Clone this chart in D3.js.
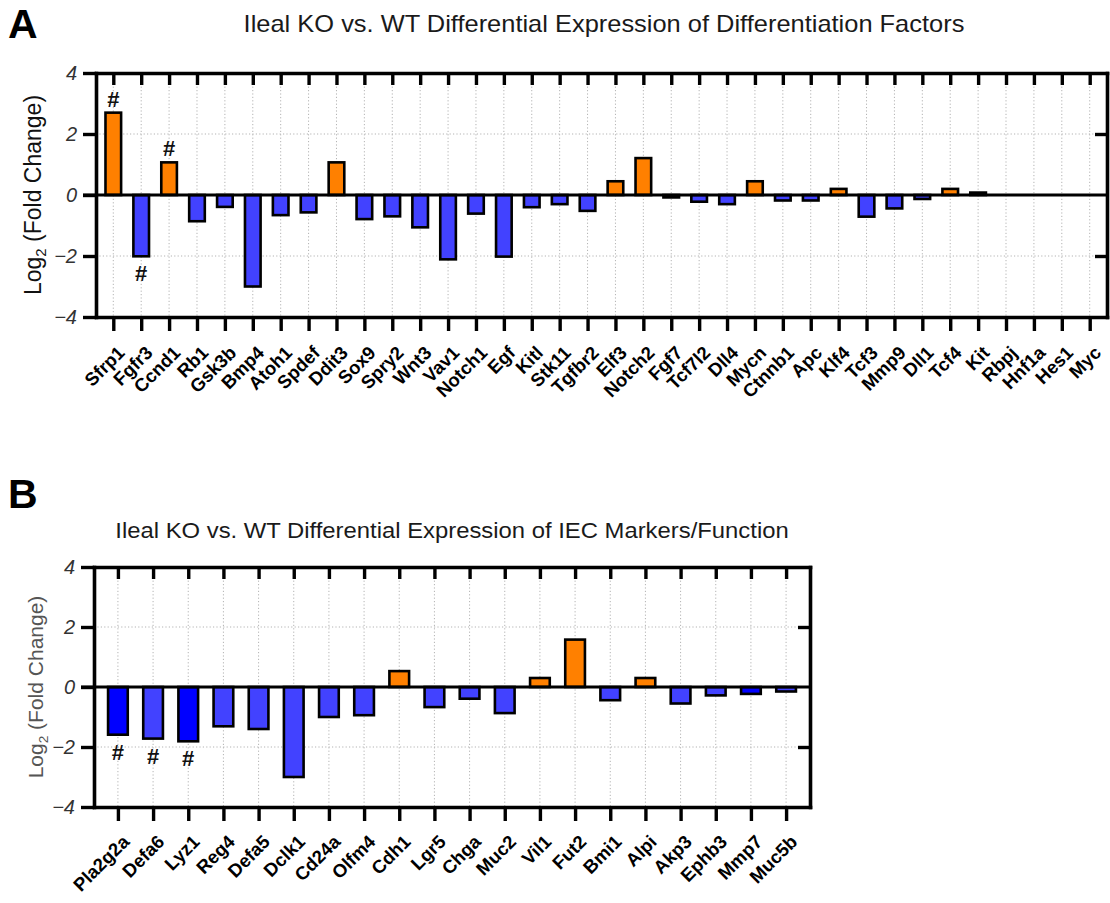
<!DOCTYPE html>
<html>
<head>
<meta charset="utf-8">
<script src="https://cdn.jsdelivr.net/npm/d3@7"></script>
<style>
  html, body { margin: 0; padding: 0; background: #fff; }
  svg { display: block; font-family: "Liberation Sans", Arial, sans-serif; }
</style>
</head>
<body>
<svg id="fig" width="1110" height="903"></svg>
<script>
// ---- Panel A: differentiation factors ----
const genesA = ["Sfrp1","Fgfr3","Ccnd1","Rb1","Gsk3b","Bmp4","Atoh1","Spdef","Ddit3","Sox9",
  "Spry2","Wnt3","Vav1","Notch1","Egf","Kitl","Stk11","Tgfbr2","Elf3","Notch2",
  "Fgf7","Tcf7l2","Dll4","Mycn","Ctnnb1","Apc","Klf4","Tcf3","Mmp9","Dll1",
  "Tcf4","Kit","Rbpj","Hnf1a","Hes1","Myc"];
const log2FcA = [2.70,-2.01,1.07,-0.86,-0.39,-3.00,-0.66,-0.57,1.07,-0.79,
  -0.70,-1.06,-2.11,-0.61,-2.02,-0.40,-0.30,-0.52,0.45,1.21,
  -0.08,-0.22,-0.30,0.45,-0.18,-0.18,0.20,-0.71,-0.44,-0.13,
  0.20,0.08,0,0,0,0];
const sigA = ["Sfrp1","Fgfr3","Ccnd1"];

// ---- Panel B: IEC markers / function ----
const genesB = ["Pla2g2a","Defa6","Lyz1","Reg4","Defa5","Dclk1","Cd24a","Olfm4","Cdh1","Lgr5",
  "Chga","Muc2","Vil1","Fut2","Bmi1","Alpi","Akp3","Ephb3","Mmp7","Muc5b"];
const log2FcB = [-1.59,-1.72,-1.81,-1.31,-1.40,-3.00,-1.00,-0.94,0.53,-0.67,
  -0.39,-0.87,0.30,1.58,-0.44,0.30,-0.55,-0.28,-0.23,-0.15];
const sigB = ["Pla2g2a","Defa6","Lyz1"];
const deepBlueB = ["Pla2g2a","Lyz1","Mmp7"];

const yTicks = [-4, -2, 0, 2, 4];
const yDomain = [-4, 4];

const UP = "#ff8000", DOWN = "#4242ff", DOWN_DEEP = "#0000ff";

const svg = d3.select("#fig");

function drawPanel(opt) {
  const g = svg.append("g");
  const { left, right, top, bottom } = opt.frame;
  const x = d3.scalePoint().domain(opt.genes).range([left, right]).padding(opt.pad);
  const y = d3.scaleLinear().domain(yDomain).range([bottom, top]);
  const step = x.step();
  const bw = step * 0.56;
  const rows = opt.genes.map((gname, i) => ({ gene: gname, v: opt.values[i] }));

  // dotted grid
  const grid = g.append("g").attr("stroke", "#b3b3b3").attr("stroke-width", 1)
    .attr("stroke-dasharray", "1.2,2.2");
  grid.selectAll("line.v").data(opt.genes).join("line")
    .attr("x1", d => x(d)).attr("x2", d => x(d))
    .attr("y1", top).attr("y2", bottom);
  grid.selectAll("line.h").data([2, -2]).join("line")
    .attr("x1", left).attr("x2", right)
    .attr("y1", d => y(d)).attr("y2", d => y(d));

  // bars
  g.append("g").selectAll("rect").data(rows.filter(d => d.v !== 0)).join("rect")
    .attr("x", d => x(d.gene) - bw / 2)
    .attr("width", bw)
    .attr("y", d => y(Math.max(0, d.v)))
    .attr("height", d => Math.abs(y(d.v) - y(0)))
    .attr("fill", d => d.v > 0 ? UP : (opt.deep && opt.deep.includes(d.gene) ? DOWN_DEEP : DOWN))
    .attr("stroke", "#000").attr("stroke-width", 2.6);

  // significance marks
  g.append("g").selectAll("text").data(rows.filter(d => opt.sig.includes(d.gene))).join("text")
    .attr("x", d => x(d.gene))
    .attr("y", d => d.v > 0 ? y(d.v) - 6 : y(d.v) + 25)
    .attr("text-anchor", "middle")
    .attr("font-size", 22).attr("font-weight", "bold").attr("fill", "#111")
    .text("#");

  // zero line
  g.append("line").attr("x1", left - 13).attr("x2", right)
    .attr("y1", y(0)).attr("y2", y(0))
    .attr("stroke", "#000").attr("stroke-width", 3.2);

  // top axis: ticks pointing into the plot
  const topAx = g.append("g").attr("transform", `translate(0,${top})`)
    .call(d3.axisBottom(x).tickSize(12).tickSizeOuter(0).tickFormat(""));
  // bottom axis with rotated gene names
  const botAx = g.append("g").attr("transform", `translate(0,${bottom})`)
    .call(d3.axisBottom(x).tickSize(14).tickSizeOuter(0));
  botAx.selectAll("text")
    .attr("font-size", 18.5).attr("font-weight", "bold").attr("fill", "#000")
    .attr("text-anchor", "end")
    .attr("transform", `translate(12,${opt.labDrop}) rotate(-45)`)
    .attr("x", 0).attr("y", 0).attr("dy", 0);
  // left axis
  const leftAx = g.append("g").attr("transform", `translate(${left},0)`)
    .call(d3.axisLeft(y).tickValues(yTicks).tickSize(13).tickSizeOuter(0).tickFormat(d3.format("d")));
  leftAx.selectAll("text")
    .attr("x", -19).attr("font-size", 20).attr("font-style", "italic").attr("fill", "#333");
  // right axis: inward ticks at +/-2
  const rightAx = g.append("g").attr("transform", `translate(${right},0)`)
    .call(d3.axisRight(y).tickValues([-2, 2]).tickSize(-12).tickSizeOuter(0).tickFormat(""));

  [topAx, botAx, leftAx, rightAx].forEach(a => {
    a.select(".domain").attr("stroke", "#000").attr("stroke-width", 3.6).attr("stroke-linecap", "square");
    a.selectAll(".tick line").attr("stroke", "#000").attr("stroke-width", 3.4);
  });

  // titles
  g.append("text")
    .attr("transform", `translate(${opt.title.x},${opt.title.y}) scale(1.06,1)`)
    .attr("text-anchor", "middle").attr("font-size", opt.title.size).attr("fill", "#1a1a1a")
    .text(opt.title.text);
  g.append("text").attr("x", opt.tag.x).attr("y", opt.tag.y)
    .attr("font-size", 41).attr("font-weight", "bold").attr("fill", "#000")
    .text(opt.tag.text);

  // y-axis label with subscript
  const yl = g.append("text")
    .attr("transform", `translate(${opt.ylab.x},${(top + bottom) / 2}) rotate(-90)`)
    .attr("text-anchor", "middle").attr("font-size", opt.ylab.size)
    .attr("fill", opt.ylab.color);
  yl.append("tspan").text("Log");
  yl.append("tspan").attr("font-size", opt.ylab.size * 0.65).attr("dy", "0.35em").text("2");
  yl.append("tspan").attr("dy", "-0.23em").text(" (Fold Change)");
}

drawPanel({
  genes: genesA, values: log2FcA, sig: sigA,
  frame: { left: 96, right: 1107, top: 73, bottom: 317 }, pad: 0.62, labDrop: 37,
  title: { text: "Ileal KO vs. WT Differential Expression of Differentiation Factors", x: 604, y: 32, size: 24 },
  tag: { text: "A", x: 8, y: 38 },
  ylab: { x: 41, size: 23, color: "#111" }
});

drawPanel({
  genes: genesB, values: log2FcB, sig: sigB, deep: deepBlueB,
  frame: { left: 94, right: 810, top: 567, bottom: 807 }, pad: 0.68, labDrop: 36,
  title: { text: "Ileal KO vs. WT Differential Expression of IEC Markers/Function", x: 452, y: 538, size: 22.5 },
  tag: { text: "B", x: 8, y: 508 },
  ylab: { x: 43, size: 21, color: "#555" }
});
</script>
</body>
</html>
